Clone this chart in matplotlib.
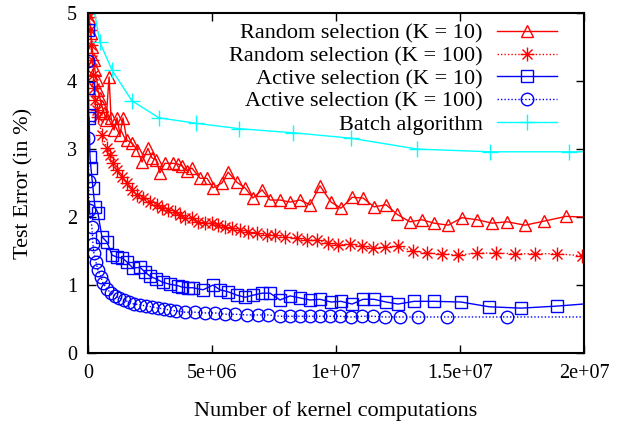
import numpy as np
import matplotlib
matplotlib.use("Agg")
import matplotlib.pyplot as plt
from matplotlib.path import Path

plt.rcParams['font.family'] = ['Liberation Serif', 'DejaVu Serif']

# kernel computations in millions, test error in %
rand10_x = [0.04, 0.12, 0.16, 0.24, 0.28, 0.36, 0.40, 0.48, 0.56, 0.65, 0.73, 0.85, 0.93, 1.05,
            1.17, 1.29, 1.41, 1.57, 1.77, 1.98, 2.18, 2.42, 2.58, 2.74, 2.90, 3.10, 3.43, 3.63,
            3.79, 3.99, 4.19, 4.52, 4.80, 5.04, 5.40, 5.65, 6.01, 6.33, 6.65, 7.02, 7.34, 7.74,
            8.15, 8.55, 8.95, 9.35, 9.80, 10.2, 10.65, 11.09, 11.53, 12.02, 12.46, 12.98, 13.47,
            13.95, 14.52, 15.08, 15.69, 16.29, 16.90, 17.62, 18.39, 19.27, 20.65]
rand10_y = [4.93, 4.71, 4.50, 4.31, 4.16, 4.01, 3.87, 3.75, 3.63, 3.53, 3.43, 4.06, 3.46, 3.28,
            3.46, 3.21, 3.46, 3.13, 3.09, 2.99, 2.81, 3.01, 2.87, 2.84, 2.65, 2.79, 2.79, 2.78,
            2.75, 2.68, 2.72, 2.57, 2.57, 2.43, 2.50, 2.66, 2.51, 2.43, 2.28, 2.40, 2.25, 2.25,
            2.22, 2.25, 2.18, 2.46, 2.22, 2.13, 2.29, 2.28, 2.15, 2.18, 2.04, 1.93, 1.96,
            1.91, 1.88, 1.99, 1.96, 1.91, 1.93, 1.88, 1.94, 2.01, 1.99]

rand100_x = [0.04, 0.08, 0.12, 0.16, 0.20, 0.24, 0.28, 0.36, 0.40, 0.56, 0.77, 0.89, 1.01, 1.17,
             1.37, 1.57, 1.77, 1.98, 2.22, 2.50, 2.78, 2.98, 3.23, 3.51, 3.71, 3.91, 4.19, 4.44,
             4.72, 5.00, 5.24, 5.52, 5.81, 6.13, 6.45, 6.81, 7.22, 7.54, 7.94, 8.43, 8.83, 9.23,
             9.68, 10.08, 10.56, 11.05, 11.49, 11.98, 12.5, 13.1, 13.67, 14.27, 14.92, 15.69,
             16.45, 17.22, 18.02, 18.91, 19.92]
rand100_y = [4.94, 4.75, 4.53, 4.31, 4.09, 3.90, 3.72, 3.57, 3.47, 3.21, 3.01, 2.91, 2.79, 2.69,
             2.59, 2.50, 2.40, 2.32, 2.28, 2.22, 2.18, 2.13, 2.10, 2.07, 2.03, 1.99, 1.99, 1.93,
             1.91, 1.91, 1.88, 1.85, 1.84, 1.81, 1.78, 1.76, 1.74, 1.74, 1.71, 1.69, 1.66, 1.66,
             1.62, 1.59, 1.60, 1.57, 1.54, 1.56, 1.57, 1.50, 1.47, 1.46, 1.44, 1.47,
             1.47, 1.46, 1.46, 1.46, 1.43]

act10_x = [0.01, 0.02, 0.03, 0.05, 0.08, 0.12, 0.20, 0.28, 0.40, 0.56, 0.77, 0.97, 1.17, 1.37,
           1.57, 1.81, 2.10, 2.30, 2.50, 2.74, 3.02, 3.31, 3.63, 3.79, 4.03, 4.23, 4.64, 5.04,
           5.32, 5.65, 6.01, 6.33, 6.65, 7.02, 7.34, 7.74, 8.15, 8.55, 8.95, 9.35, 9.80, 10.2,
           10.65, 11.09, 11.53, 12.02, 12.5, 13.15, 13.95, 15.04, 16.17, 17.46, 18.91, 20.65]
act10_y = [4.75, 3.90, 3.50, 3.45, 2.88, 2.72, 2.43, 2.15, 2.06, 1.71, 1.63, 1.44, 1.41, 1.40,
           1.34, 1.25, 1.26, 1.19, 1.13, 1.09, 1.04, 1.01, 0.99, 0.97, 0.96, 0.96, 0.93, 1.00,
           0.93, 0.90, 0.85, 0.82, 0.85, 0.88, 0.88, 0.78, 0.84, 0.81, 0.78, 0.79, 0.75, 0.76,
           0.72, 0.79, 0.79, 0.75, 0.72, 0.76, 0.76, 0.75, 0.68, 0.66, 0.69, 0.74]

act100_x = [0.01, 0.02, 0.03, 0.05, 0.16, 0.20, 0.24, 0.32, 0.40, 0.52, 0.60, 0.77, 0.93, 1.09,
            1.25, 1.45, 1.65, 1.85, 2.10, 2.34, 2.58, 2.82, 3.06, 3.31, 3.55, 3.91, 4.31, 4.72,
            5.12, 5.52, 5.93, 6.41, 6.85, 7.26, 7.74, 8.15, 8.55, 8.95, 9.35, 9.76, 10.16, 10.6,
            11.05, 11.49, 11.98, 12.58, 13.31, 14.48, 16.9, 21.45]
act100_y = [4.29, 3.16, 2.53, 2.10, 1.85, 1.60, 1.47, 1.34, 1.22, 1.12, 1.03, 0.94, 0.88, 0.84,
            0.81, 0.78, 0.75, 0.72, 0.71, 0.69, 0.68, 0.66, 0.65, 0.63, 0.62, 0.60, 0.60, 0.59,
            0.59, 0.57, 0.57, 0.56, 0.56, 0.56, 0.54, 0.54, 0.54, 0.54, 0.54, 0.54, 0.54, 0.53,
            0.54, 0.54, 0.53, 0.53, 0.53, 0.53, 0.53, 0.53]

batch_x = [0.12, 0.48, 0.97, 1.77, 2.86, 4.35, 6.09, 8.27, 10.6, 13.27, 16.2, 19.4, 21.0]
batch_y = [5.3, 4.57, 4.16, 3.71, 3.46, 3.38, 3.30, 3.24, 3.16, 3.00, 2.96, 2.96, 2.96]

labels = ["Random selection (K = 10)", "Random selection (K = 100)",
          "Active selection (K = 10)", "Active selection (K = 100)", "Batch algorithm"]
xtick_vals = [0, 5e6, 1e7, 1.5e7, 2e7]
xtick_labels = ["0", "5e+06", "1e+07", "1.5e+07", "2e+07"]
ytick_vals = [0, 1, 2, 3, 4, 5]

# gnuplot style asterisk (plus + cross)
M, L = Path.MOVETO, Path.LINETO
star = Path([(-1, 0), (1, 0), (0, -1), (0, 1), (-.72, -.72), (.72, .72), (-.72, .72), (.72, -.72)],
            [M, L, M, L, M, L, M, L])

red = '#ff0000'
blue = '#0000ff'
cyan = '#00ffff'

fig = plt.figure(figsize=(6.24, 4.23), dpi=100)
ax = fig.add_axes([0.141, 0.1655, 0.795, 0.8035])

def mil(v):
    return np.array(v) * 1e6

ax.plot(mil(rand10_x), rand10_y, color=red, lw=1, marker='^', ms=9, mfc='none', mew=1,
        label=labels[0])
ax.plot(mil(rand100_x), rand100_y, color=red, lw=1, ls=(0, (1, 1.5)), marker=star, ms=10,
        mfc='none', mew=1, label=labels[1])
ax.plot(mil(act10_x), act10_y, color=blue, lw=1, marker='s', ms=8.5, mfc='none', mew=1,
        label=labels[2])
ax.plot(mil(act100_x), act100_y, color=blue, lw=1, ls=(0, (1, 1.5)), marker='o', ms=9,
        mfc='none', mew=1, label=labels[3])
ax.plot(mil(batch_x), batch_y, color=cyan, lw=1, marker='+', ms=11, mew=1, label=labels[4])

ax.set_xlim(0, 2e7)
ax.set_ylim(0, 5)
ax.set_xticks(xtick_vals)
ax.set_xticklabels(xtick_labels)
ax.set_yticks(ytick_vals)
ax.set_yticklabels([str(v) for v in ytick_vals])
ax.tick_params(direction='in', length=6, width=1, top=True, right=True, labelsize=14.5, pad=8)
for s in ax.spines.values():
    s.set_linewidth(1.5)

ax.set_xlabel("Number of kernel computations", fontsize=16, labelpad=13)
ax.set_ylabel("Test Error (in %)", fontsize=16, labelpad=24)

leg = ax.legend(loc='upper right', markerfirst=False, frameon=False, fontsize=16, numpoints=1,
                handlelength=2.7, handletextpad=0.65, labelspacing=0.1,
                borderaxespad=0.0, bbox_to_anchor=(0.963, 0.997))

fig.savefig("out.png", dpi=100)
